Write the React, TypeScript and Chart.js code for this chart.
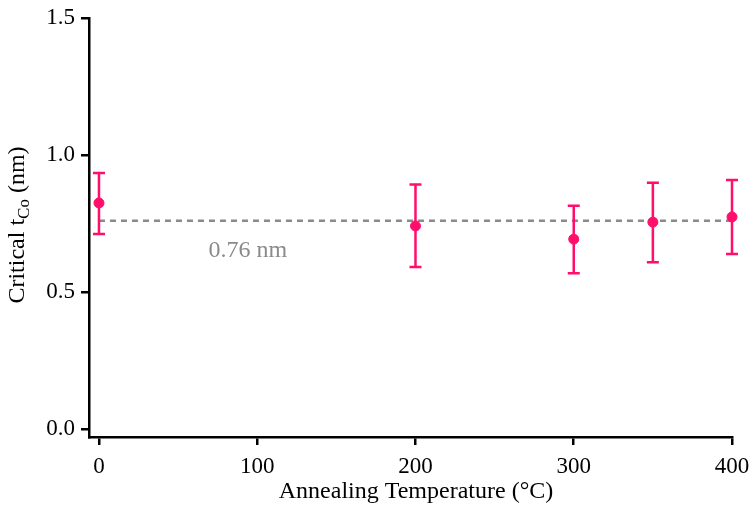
import { useEffect, useRef } from "react";
import { Chart, registerables } from "chart.js";

Chart.register(...registerables);

const temperatures = [0, 200, 300, 350, 400];
const criticalT = [0.825, 0.741, 0.693, 0.755, 0.774];
const errUpper = [0.934, 0.892, 0.815, 0.899, 0.909];
const errLower = [0.712, 0.591, 0.569, 0.609, 0.639];
const avgValue = 0.76;
const avgRange = [0, 400];
const avgLabel = "0.76 nm";
const avgLabelX = 94;
const xTicks = [0, 100, 200, 300, 400];
const yTicks = [0, 0.5, 1.0, 1.5];
const xTitle = "Annealing Temperature (°C)";
const yTitleMain = "Critical t";
const yTitleSub = "Co";
const yTitleEnd = " (nm)";

const PINK = "#ff0f6b";
const GRAY = "#8a8a8a";
const FONT = "'Liberation Serif', 'Times New Roman', serif";

export default function App() {
  const ref = useRef<HTMLCanvasElement | null>(null);

  useEffect(() => {
    document.body.style.margin = "0";
    const canvas = ref.current;
    if (!canvas) return;

    const overlay = {
      id: "overlay",
      beforeDatasetDraw(chart: any, args: any) {
        if (args.index !== 1) return;
        const ctx = chart.ctx;
        const xs = chart.scales.x;
        const ys = chart.scales.y;
        ctx.save();
        ctx.strokeStyle = PINK;
        ctx.lineWidth = 2.5;
        ctx.lineCap = "butt";
        ctx.setLineDash([]);
        temperatures.forEach((t, i) => {
          const px = xs.getPixelForValue(t);
          const top = ys.getPixelForValue(errUpper[i]);
          const bot = ys.getPixelForValue(errLower[i]);
          ctx.beginPath();
          ctx.moveTo(px, top);
          ctx.lineTo(px, bot);
          ctx.moveTo(px - 6, top);
          ctx.lineTo(px + 6, top);
          ctx.moveTo(px - 6, bot);
          ctx.lineTo(px + 6, bot);
          ctx.stroke();
        });
        ctx.restore();
      },
      afterDraw(chart: any) {
        const ctx = chart.ctx;
        const xs = chart.scales.x;
        const ys = chart.scales.y;
        ctx.save();
        ctx.fillStyle = GRAY;
        ctx.font = `24px ${FONT}`;
        ctx.textAlign = "center";
        ctx.textBaseline = "middle";
        ctx.fillText(avgLabel, xs.getPixelForValue(avgLabelX), ys.getPixelForValue(avgValue) + 30);

        ctx.fillStyle = "#000";
        ctx.font = `24px ${FONT}`;
        ctx.fillText(xTitle, 416, 492);

        ctx.translate(18, 225);
        ctx.rotate(-Math.PI / 2);
        ctx.textAlign = "left";
        ctx.textBaseline = "middle";
        ctx.font = `24px ${FONT}`;
        const w1 = ctx.measureText(yTitleMain).width;
        const w3 = ctx.measureText(yTitleEnd).width;
        ctx.font = `17px ${FONT}`;
        const w2 = ctx.measureText(yTitleSub).width;
        const total = w1 + w2 + w3;
        let x0 = -total / 2;
        ctx.font = `24px ${FONT}`;
        ctx.fillText(yTitleMain, x0, 0);
        x0 += w1;
        ctx.font = `17px ${FONT}`;
        ctx.fillText(yTitleSub, x0, 7);
        x0 += w2;
        ctx.font = `24px ${FONT}`;
        ctx.fillText(yTitleEnd, x0, 0);
        ctx.restore();
      },
    };

    const chart = new Chart(canvas, {
      type: "scatter",
      data: {
        datasets: [
          {
            type: "line",
            data: avgRange.map((x) => ({ x, y: avgValue })),
            borderColor: GRAY,
            borderWidth: 2.5,
            borderDash: [6, 5],
            pointRadius: 0,
            fill: false,
            clip: false,
            order: 2,
          } as any,
          {
            data: temperatures.map((t, i) => ({ x: t, y: criticalT[i] })),
            backgroundColor: PINK,
            borderColor: PINK,
            pointRadius: 5,
            pointHoverRadius: 5,
            clip: false,
            order: 1,
          } as any,
        ],
      },
      plugins: [overlay],
      options: {
        responsive: false,
        animation: false,
        devicePixelRatio: 1,
        layout: { padding: { top: 18, right: 19, left: 0, bottom: 0 } },
        plugins: { legend: { display: false }, tooltip: { enabled: false } },
        scales: {
          x: {
            type: "linear",
            min: -6.3,
            max: 400,
            afterBuildTicks: (s: any) => {
              s.ticks = xTicks.map((v) => ({ value: v }));
            },
            afterFit: (s: any) => {
              s.height = 70;
              s.paddingLeft = 0;
              s.paddingRight = 0;
            },
            grid: {
              display: true,
              drawOnChartArea: false,
              drawTicks: true,
              tickLength: 8,
              color: "#000",
              lineWidth: 2.5,
            },
            border: { display: true, color: "#000", width: 2.5 },
            ticks: {
              color: "#000",
              font: { family: FONT, size: 23 },
              padding: 8,
              maxRotation: 0,
              callback: (v: any) => String(v),
            },
          },
          y: {
            type: "linear",
            min: -0.029,
            max: 1.5,
            afterBuildTicks: (s: any) => {
              s.ticks = yTicks.map((v) => ({ value: v }));
            },
            afterFit: (s: any) => {
              s.width = 89;
              s.paddingTop = 0;
              s.paddingBottom = 0;
            },
            grid: {
              display: true,
              drawOnChartArea: false,
              drawTicks: true,
              tickLength: 8,
              color: "#000",
              lineWidth: 2.5,
            },
            border: { display: true, color: "#000", width: 2.5 },
            ticks: {
              color: "#000",
              font: { family: FONT, size: 23 },
              padding: 6,
              callback: (v: any) => Number(v).toFixed(1),
            },
          },
        },
      } as any,
    });

    return () => chart.destroy();
  }, []);

  return <canvas ref={ref} width={751} height={507} style={{ display: "block" }} />;
}
